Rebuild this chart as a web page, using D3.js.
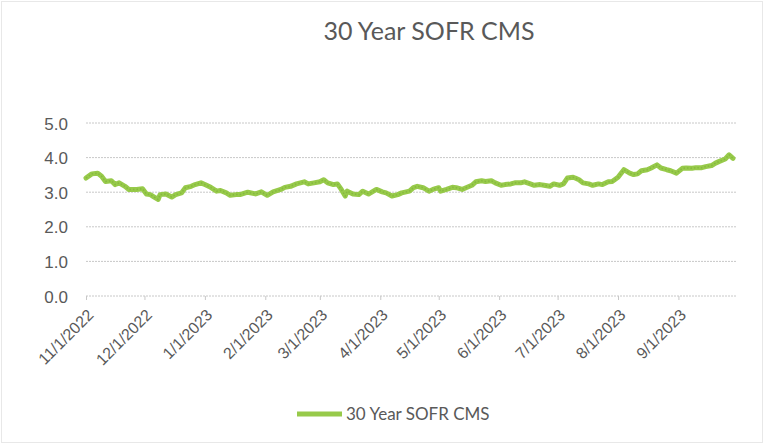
<!DOCTYPE html>
<html><head><meta charset="utf-8">
<script src="https://cdn.jsdelivr.net/npm/d3@7"></script>
<style>
html,body{margin:0;padding:0;background:#fff;}
svg{display:block;font-family:Lato,"Open Sans",sans-serif;}
</style></head>
<body>
<svg id="chart" width="764" height="444"></svg>
<script>
const title = "30 Year SOFR CMS";
const seriesName = "30 Year SOFR CMS";
const dates = [
"2022-11-01","2022-11-04","2022-11-07","2022-11-09","2022-11-11","2022-11-14","2022-11-16","2022-11-18","2022-11-21","2022-11-23","2022-11-27","2022-11-30",
"2022-12-02","2022-12-04","2022-12-06","2022-12-08","2022-12-09","2022-12-12","2022-12-15","2022-12-17","2022-12-20","2022-12-22","2022-12-25","2022-12-27","2022-12-30",
"2023-01-01","2023-01-04","2023-01-07","2023-01-09","2023-01-12","2023-01-14","2023-01-17","2023-01-19","2023-01-23","2023-01-27","2023-01-30",
"2023-02-02","2023-02-05","2023-02-09","2023-02-11","2023-02-14","2023-02-17","2023-02-21","2023-02-23","2023-02-26",
"2023-03-01","2023-03-03","2023-03-05","2023-03-08","2023-03-10","2023-03-12","2023-03-14","2023-03-15","2023-03-18","2023-03-21","2023-03-23","2023-03-26","2023-03-27","2023-03-30",
"2023-04-02","2023-04-04","2023-04-07","2023-04-10","2023-04-12","2023-04-16","2023-04-18","2023-04-20","2023-04-23","2023-04-26","2023-04-28",
"2023-05-01","2023-05-02","2023-05-05","2023-05-08","2023-05-10","2023-05-13","2023-05-15","2023-05-18","2023-05-20","2023-05-23","2023-05-25","2023-05-28","2023-05-30",
"2023-06-02","2023-06-04","2023-06-07","2023-06-09","2023-06-12","2023-06-14","2023-06-17","2023-06-19","2023-06-22","2023-06-24","2023-06-27","2023-06-29",
"2023-07-02","2023-07-04","2023-07-06","2023-07-09","2023-07-10","2023-07-12","2023-07-14","2023-07-17","2023-07-19","2023-07-22","2023-07-24","2023-07-27","2023-07-29",
"2023-08-01","2023-08-04","2023-08-07","2023-08-09","2023-08-11","2023-08-13","2023-08-16","2023-08-18","2023-08-21","2023-08-23","2023-08-26","2023-08-28","2023-08-31",
"2023-09-03","2023-09-05","2023-09-08","2023-09-10","2023-09-13","2023-09-15","2023-09-18","2023-09-20","2023-09-22","2023-09-25","2023-09-27","2023-09-29"
];
const values = [
3.41,3.53,3.55,3.46,3.31,3.33,3.22,3.27,3.17,3.08,3.08,3.10,
2.95,2.93,2.86,2.79,2.93,2.95,2.86,2.93,2.98,3.13,3.17,3.22,3.27,
3.22,3.14,3.03,3.05,2.98,2.91,2.93,2.93,3.00,2.95,3.01,
2.91,3.01,3.08,3.14,3.17,3.24,3.30,3.24,3.27,
3.30,3.36,3.27,3.22,3.24,3.08,2.89,3.03,2.95,2.93,3.03,2.95,2.98,3.08,
3.01,2.98,2.89,2.93,2.98,3.03,3.13,3.17,3.13,3.03,3.08,
3.13,3.03,3.08,3.14,3.13,3.08,3.13,3.20,3.30,3.33,3.31,3.33,3.27,
3.20,3.22,3.24,3.27,3.27,3.30,3.24,3.20,3.22,3.20,3.17,3.24,
3.20,3.24,3.41,3.43,3.41,3.36,3.27,3.24,3.20,3.24,3.22,3.30,3.31,
3.43,3.65,3.55,3.51,3.53,3.62,3.65,3.70,3.79,3.70,3.65,3.62,3.55,
3.69,3.70,3.69,3.71,3.71,3.74,3.77,3.84,3.89,3.96,4.08,3.98
];
const yTicks = [0,1,2,3,4,5];
const xTickDates = ["2022-11-01","2022-12-01","2023-01-01","2023-02-01","2023-03-01","2023-04-01","2023-05-01","2023-06-01","2023-07-01","2023-08-01","2023-09-01"];
const xDomain = ["2022-11-01","2023-09-29"];

const parse = d3.timeParse("%Y-%m-%d");
const fmt = d => (d.getMonth()+1) + "/" + d.getDate() + "/" + d.getFullYear();
const data = dates.map((d,i) => ({date: parse(d), value: values[i]}));

const svg = d3.select("#chart");
const textColor = "#595959";

// chart border
svg.append("rect").attr("x",1.5).attr("y",1.5).attr("width",761).attr("height",441)
  .attr("fill","none").attr("stroke","#d0d0d0").attr("stroke-width",1).attr("stroke-dasharray","1,1");

const x = d3.scaleTime().domain(xDomain.map(parse)).range([86, 733]);
const y = d3.scaleLinear().domain([0,5]).range([296, 123]);
const plotRight = 736;

// gridlines
svg.append("g").selectAll("line").data(yTicks.filter(t=>t>0)).join("line")
  .attr("x1",86).attr("x2",plotRight).attr("y1",d=>y(d)).attr("y2",d=>y(d))
  .attr("stroke","#c8c8c8").attr("stroke-width",1).attr("stroke-dasharray","2,1");

// y axis labels
const yAxis = d3.axisLeft(y).tickValues(yTicks).tickFormat(d3.format(".1f")).tickSize(0).tickPadding(0);
const gy = svg.append("g").attr("transform","translate(68,0)").call(yAxis);
gy.select(".domain").remove();
gy.selectAll("text").attr("fill",textColor).style("font-size","17px").attr("dy","0.36em");

// x axis
const xAxis = d3.axisBottom(x).tickValues(xTickDates.map(parse)).tickFormat(fmt).tickSize(4).tickPadding(0);
const gx = svg.append("g").attr("transform","translate(0,296)").call(xAxis);
gx.select(".domain").attr("d",`M86,0H${plotRight}`).attr("stroke","#c8c8c8").attr("stroke-dasharray","2,1");
gx.selectAll(".tick line").attr("stroke","#c8c8c8");
gx.selectAll("text").attr("fill",textColor).style("font-size","16px")
  .attr("text-anchor","end").attr("y",0).attr("dy",0)
  .attr("transform","translate(8,20) rotate(-45)");

// line
const line = d3.line().x(d=>x(d.date)).y(d=>y(d.value)).curve(d3.curveLinear);
svg.append("path").datum(data).attr("d",line).attr("fill","none")
  .attr("stroke","#97CA4A").attr("stroke-width",5).attr("stroke-linejoin","round").attr("stroke-linecap","round");
svg.append("path").datum(data).attr("d",line).attr("fill","none")
  .attr("stroke","#7FB23A").attr("stroke-width",1.5).attr("stroke-dasharray","1.5,2").attr("opacity",0.7);

// title
svg.append("text").attr("x",429).attr("y",40).attr("text-anchor","middle")
  .attr("fill",textColor).style("font-size","25px").text(title);

// legend
svg.append("line").attr("x1",297).attr("x2",342).attr("y1",414).attr("y2",414)
  .attr("stroke","#97CA4A").attr("stroke-width",5);
svg.append("text").attr("x",346).attr("y",420).attr("fill",textColor)
  .style("font-size","17px").text(seriesName);
</script>
</body></html>
